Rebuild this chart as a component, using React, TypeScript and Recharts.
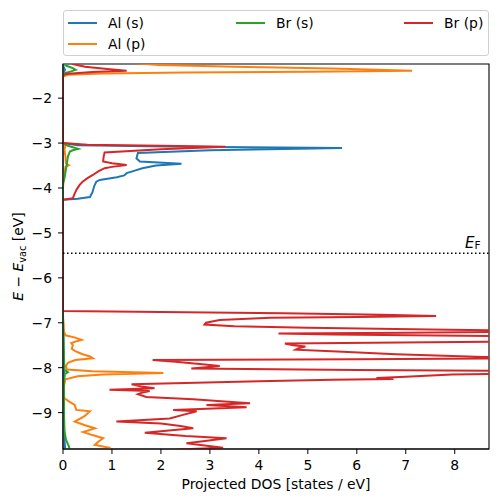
import { LineChart, Line, XAxis, YAxis, ReferenceLine, ReferenceArea } from "recharts";

// [energy (eV), projected DOS]
const alS: [number, number][] = [
  [-1.1, 0], [-1.3, 0.01], [-1.37, 0.04], [-1.44, 0.01], [-1.5, 0], [-3.0, 0],
  [-3.05, 0.3], [-3.08, 2.5], [-3.11, 5.7], [-3.16, 3.0], [-3.22, 1.53], [-3.34, 1.5],
  [-3.41, 1.57], [-3.46, 2.42], [-3.5, 1.9], [-3.56, 1.62], [-3.62, 1.45], [-3.67, 1.3],
  [-3.72, 1.25], [-3.76, 1.1], [-3.82, 0.75], [-3.86, 0.68], [-3.95, 0.64], [-4.1, 0.6],
  [-4.2, 0.55], [-4.24, 0.3], [-4.26, 0], [-4.4, 0], [-6.8, 0], [-7.5, 0.01],
  [-8.1, 0.02], [-9.0, 0.01], [-9.6, 0.03], [-9.9, 0.05],
];

const alP: [number, number][] = [
  [-1.1, 0.5], [-1.2, 1.2], [-1.26, 1.95], [-1.3, 3.5], [-1.34, 5.5], [-1.39, 7.13],
  [-1.41, 5.0], [-1.43, 2.5], [-1.45, 0.8], [-1.48, 0.1], [-1.52, 0], [-3.0, 0],
  [-3.05, 0.05], [-3.15, 0.03], [-3.3, 0.05], [-3.45, 0.06], [-3.49, 0.12], [-3.53, 0.05],
  [-3.7, 0.03], [-3.85, 0.01], [-4.0, 0], [-6.9, 0], [-7.0, 0.01], [-7.2, 0.02],
  [-7.28, 0.05], [-7.33, 0.25], [-7.38, 0.38], [-7.42, 0.25], [-7.45, 0.17], [-7.5, 0.2],
  [-7.58, 0.18], [-7.63, 0.25], [-7.7, 0.4], [-7.75, 0.55], [-7.79, 0.61], [-7.83, 0.25],
  [-7.89, 0.1], [-7.96, 0.06], [-8.04, 0.08], [-8.08, 0.6], [-8.12, 2.05], [-8.15, 0.82],
  [-8.19, 0.3], [-8.26, 0.05], [-8.4, 0.02], [-8.55, 0.01], [-8.68, 0.03], [-8.75, 0.12],
  [-8.83, 0.24], [-8.94, 0.27], [-8.97, 0.55], [-9.02, 0.5], [-9.08, 0.44], [-9.2, 0.24],
  [-9.28, 0.45], [-9.35, 0.65], [-9.43, 0.41], [-9.5, 0.6], [-9.57, 0.82], [-9.65, 0.72],
  [-9.72, 0.65], [-9.78, 0.95], [-9.9, 0.9],
];

const brS: [number, number][] = [
  [-1.1, 0.02], [-1.24, 0.03], [-1.28, 0.07], [-1.33, 0.2], [-1.37, 0.26], [-1.41, 0.15],
  [-1.44, 0.05], [-1.48, 0], [-3.0, 0], [-3.06, 0.1], [-3.13, 0.31], [-3.16, 0.2],
  [-3.19, 0.14], [-3.3, 0.1], [-3.52, 0.07], [-3.78, 0.03], [-3.9, 0], [-7.1, 0],
  [-7.3, 0.01], [-7.8, 0.02], [-8.05, 0.03], [-8.1, 0.1], [-8.14, 0.04], [-8.3, 0.02],
  [-9.0, 0.02], [-9.4, 0.03], [-9.6, 0.06], [-9.75, 0.12], [-9.9, 0.15],
];

const brP: [number, number][] = [
  [-1.1, 0.05], [-1.24, 0.2], [-1.3, 0.45], [-1.35, 0.9], [-1.39, 1.3], [-1.42, 0.6],
  [-1.46, 0.05], [-1.5, 0], [-3.0, 0], [-3.04, 0.5], [-3.06, 2.0], [-3.08, 3.32],
  [-3.14, 2.0], [-3.21, 0.85], [-3.3, 0.83], [-3.41, 0.82], [-3.45, 1.0], [-3.49, 1.3],
  [-3.53, 1.0], [-3.56, 0.85], [-3.63, 0.72], [-3.71, 0.61], [-3.78, 0.5], [-3.86, 0.4],
  [-3.93, 0.34], [-4.03, 0.28], [-4.12, 0.24], [-4.23, 0.2], [-4.26, 0], [-4.4, 0],
  [-6.6, 0], [-6.74, 0], [-6.76, 2.0], [-6.79, 4.5], [-6.82, 6.5], [-6.85, 7.62],
  [-6.87, 6.0], [-6.89, 4.23], [-6.94, 3.2], [-7.0, 2.92], [-7.04, 2.89], [-7.08, 3.5],
  [-7.11, 5.0], [-7.15, 7.5], [-7.19, 10], [-7.22, 7], [-7.24, 4.4], [-7.26, 5.5],
  [-7.31, 10], [-7.38, 11], [-7.42, 9], [-7.46, 4.53], [-7.5, 4.7], [-7.53, 4.95],
  [-7.57, 4.8], [-7.6, 4.75], [-7.64, 5.6], [-7.7, 6.8], [-7.76, 8.6], [-7.79, 10],
  [-7.81, 6], [-7.83, 1.83], [-7.87, 2.3], [-7.93, 2.9], [-7.96, 3.2], [-8.0, 2.8],
  [-8.02, 2.62], [-8.05, 6], [-8.08, 10], [-8.12, 10], [-8.15, 7.94], [-8.2, 7.0],
  [-8.23, 6.4], [-8.25, 6.75], [-8.27, 5.5], [-8.3, 4.0], [-8.34, 2.5], [-8.37, 1.4],
  [-8.42, 1.6], [-8.46, 1.87], [-8.49, 0.95], [-8.52, 1.77], [-8.56, 1.6], [-8.59, 1.53],
  [-8.65, 1.7], [-8.7, 2.66], [-8.75, 3.3], [-8.79, 3.82], [-8.83, 2.93], [-8.88, 3.75],
  [-8.94, 2.25], [-8.97, 2.73], [-9.05, 2.45], [-9.13, 2.18], [-9.2, 1.09], [-9.24, 2.0],
  [-9.3, 2.4], [-9.35, 2.66], [-9.45, 1.67], [-9.52, 2.5], [-9.57, 3.34], [-9.63, 2.9],
  [-9.68, 2.52], [-9.78, 3.27], [-9.82, 2.35], [-9.9, 2.0],
];

const seriesNames = ["Al (s)", "Al (p)", "Br (s)", "Br (p)"];
const seriesColors = ["#1f77b4", "#ff7f0e", "#2ca02c", "#d62728"];
const seriesData = [alS, alP, brS, brP];

const xTicks = [0, 1, 2, 3, 4, 5, 6, 7, 8];
const yTicks = [-9, -8, -7, -6, -5, -4, -3, -2];
const xDomain: [number, number] = [0, 8.7];
const yDomain: [number, number] = [-9.81, -1.24];
const fermiLevel = -5.45;

const FONT = "DejaVu Sans, sans-serif";
const fmt = (v: number) => (v < 0 ? `\u2212${Math.abs(v)}` : `${v}`);

const legendPos = [
  { left: 4, top: 2 },
  { left: 4, top: 23 },
  { left: 172, top: 2 },
  { left: 340, top: 2 },
];

function Legend() {
  return (
    <div
      style={{
        position: "absolute", left: 55, top: 2, width: 424, height: 44,
        border: "1px solid #d0d0d0", borderRadius: 3, background: "rgba(255,255,255,0.8)",
        fontFamily: FONT, fontSize: 13.9,
      }}
    >
      {seriesNames.map((n, i) => (
        <div key={n} style={{ position: "absolute", left: legendPos[i].left, top: legendPos[i].top, display: "flex", alignItems: "center", height: 20 }}>
          <span style={{ display: "inline-block", width: 29, height: 2, background: seriesColors[i], marginRight: 11 }} />
          <span>{n}</span>
        </div>
      ))}
    </div>
  );
}

export default function App() {
  return (
    <div style={{ position: "relative", width: 490, height: 494 }}>
      <LineChart width={490} height={494} margin={{ top: 56, right: 9, left: 0, bottom: 0 }}>
        <XAxis
          type="number" dataKey="dos" domain={xDomain} ticks={xTicks} allowDataOverflow
          tickFormatter={fmt} tickSize={5} tickMargin={6} height={53}
          tick={{ fontSize: 13.9, fill: "#000", fontFamily: FONT }}
          axisLine={{ stroke: "#000" }} tickLine={{ stroke: "#000" }}
          label={({ viewBox }: any) => (
            <text x={viewBox.x + viewBox.width / 2} y={481} textAnchor="middle" fontSize={13.9} fontFamily={FONT} fill="#000">
              Projected DOS [states / eV]
            </text>
          )}
        />
        <YAxis
          type="number" domain={yDomain} ticks={yTicks} allowDataOverflow
          tickFormatter={fmt} tickSize={5} tickMargin={6} width={55}
          tick={{ fontSize: 13.9, fill: "#000", fontFamily: FONT }}
          axisLine={{ stroke: "#000" }} tickLine={{ stroke: "#000" }}
          label={({ viewBox }: any) => {
            const cy = viewBox.y + viewBox.height / 2;
            return (
              <text x={15} y={cy} transform={`rotate(-90, 15, ${cy})`} textAnchor="middle" fontSize={13.9} fontFamily={FONT} fill="#000">
                <tspan fontStyle="italic">E</tspan>
                <tspan> {"\u2212"} </tspan>
                <tspan fontStyle="italic">E</tspan>
                <tspan fontSize={9.7} dy={3}>vac</tspan>
                <tspan dy={-3}> [eV]</tspan>
              </text>
            );
          }}
        />
        {seriesData.map((d, i) => (
          <Line
            key={seriesNames[i]} name={seriesNames[i]}
            data={d.map(([e, dos]) => ({ e, dos }))} dataKey="e"
            stroke={seriesColors[i]} strokeWidth={2} dot={false} activeDot={false}
            type="linear" isAnimationActive={false}
          />
        ))}
        <ReferenceLine
          y={fermiLevel} stroke="#000" strokeWidth={1.5} strokeDasharray="1.5 2.5"
          label={({ viewBox }: any) => (
            <text x={viewBox.x + viewBox.width - 24} y={viewBox.y - 5} fontFamily={FONT} fill="#000">
              <tspan fontSize={15} fontStyle="italic">E</tspan>
              <tspan fontSize={10.5} dy={1}>F</tspan>
            </text>
          )}
        />
        <ReferenceArea x1={xDomain[0]} x2={xDomain[1]} y1={yDomain[0]} y2={yDomain[1]} fill="none" fillOpacity={0} stroke="#000" strokeWidth={1.1} />
      </LineChart>
      <Legend />
    </div>
  );
}
